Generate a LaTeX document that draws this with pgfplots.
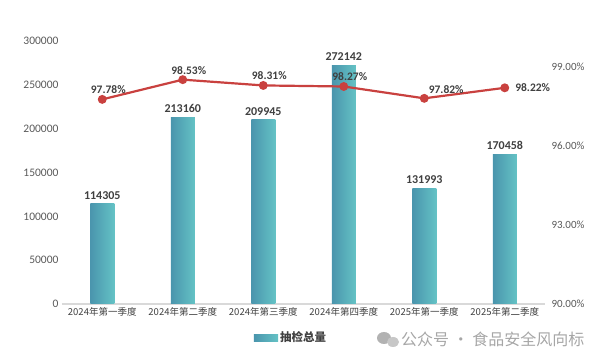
\documentclass[border=0pt]{standalone}
\usepackage{fontspec}
\setmainfont{Carlito}
\newfontfamily\cjk{Noto Sans CJK SC}
\usepackage{pgfplots}
\pgfplotsset{compat=1.18}
\definecolor{barL}{HTML}{4A95AD}
\definecolor{barR}{HTML}{64C2C5}
\definecolor{lineR}{HTML}{C9413F}
\definecolor{txt}{HTML}{595959}
\definecolor{lbl}{HTML}{404040}
\pgfplotsset{
  mybar/.style={ybar, bar width=24pt, bar shift=0pt, draw=none, left color=barL, right color=barR,
    nodes near coords={\pgfmathprintnumber[fixed,precision=0,1000 sep={}]{\pgfplotspointmeta}},
    every node near coord/.append style={font=\bfseries\fontsize{12}{13}\selectfont, text=lbl, anchor=south, yshift=1pt}},
  pctlbl/.style={only marks, mark=none, point meta=y,
    nodes near coords={\pgfmathprintnumber[fixed,fixed zerofill,precision=2]{\pgfplotspointmeta}\%},
    every node near coord/.append style={font=\bfseries\fontsize{11.5}{12}\selectfont, text=lbl}},
}
\begin{document}
\begin{tikzpicture}[x=1pt,y=1pt]
\useasboundingbox (0,0) rectangle (604,363);
\begin{axis}[
  scale only axis, at={(62pt,59pt)}, anchor=south west,
  width=483pt, height=263pt,
  xmin=-0.5, xmax=5.5, ymin=0, ymax=300000,
  xtick={0,1,2,3,4,5},
  xticklabels={2024年第一季度,2024年第二季度,2024年第三季度,2024年第四季度,2025年第一季度,2025年第二季度},
  xticklabel style={font=\cjk\fontsize{9.5}{10}\selectfont, text=lbl},
  ytick={0,50000,100000,150000,200000,250000,300000},
  scaled y ticks=false,
  yticklabel style={/pgf/number format/fixed,/pgf/number format/1000 sep={}, font=\fontsize{11.5}{12}\selectfont, text=txt},
  /pgf/number format/assume math mode=true,
  axis y line*=left, axis x line*=bottom,
  y axis line style={draw=none},
  x axis line style={draw=black!15, line width=1.2pt},
  major tick length=0pt,
  ytick style={draw=none}, xtick style={draw=none},
  legend style={at={(0.474,-0.128)}, anchor=center, draw=none, font=\cjk\bfseries\fontsize{11.5}{12}\selectfont, text=lbl, legend columns=1},
  legend image code/.code={\fill[left color=barL, right color=barR] (0cm,-0.12cm) rectangle (0.85cm,0.12cm);},
  clip=false,
]
\addplot[mybar] coordinates {(0,114305)};
\addlegendentry{抽检总量}
\addplot[mybar, forget plot] coordinates {(1,213160)};
\addplot[mybar, forget plot] coordinates {(2,209945)};
\addplot[mybar, forget plot] coordinates {(3,272142)};
\addplot[mybar, forget plot] coordinates {(4,131993)};
\addplot[mybar, forget plot] coordinates {(5,170458)};
\end{axis}
\begin{axis}[
  scale only axis, at={(62pt,59pt)}, anchor=south west,
  width=483pt, height=263pt,
  xmin=-0.5, xmax=5.5, ymin=90, ymax=100,
  axis x line=none, axis y line*=right,
  y axis line style={draw=none},
  ytick={90,93,96,99},
  yticklabel={\pgfmathprintnumber[fixed,fixed zerofill,precision=2]{\tick}\%},
  yticklabel style={font=\fontsize{11}{12}\selectfont, text=txt, xshift=3pt},
  /pgf/number format/assume math mode=true,
  major tick length=0pt, ytick style={draw=none},
  clip=false,
]
\addplot[color=lineR, line width=2.2pt, mark=*, mark size=3.3pt, mark options={fill=lineR, draw=lineR}]
  coordinates {(0,97.78) (1,98.53) (2,98.31) (3,98.27) (4,97.82) (5,98.22)};
\addplot[pctlbl, every node near coord/.append style={anchor=south, xshift=6pt, yshift=2pt}]
  coordinates {(0,97.78) (1,98.53) (2,98.31) (3,98.27)};
\addplot[pctlbl, every node near coord/.append style={anchor=south west, xshift=1pt, yshift=1pt}]
  coordinates {(4,97.82)};
\addplot[pctlbl, every node near coord/.append style={anchor=west, xshift=7pt}]
  coordinates {(5,98.22)};
\end{axis}
% watermark
\fill[black!30] (384,25) ellipse (7pt and 6pt);
\fill[black!22] (393,21) ellipse (6pt and 5pt);
\node[anchor=west, text=black!35, font=\cjk\fontsize{16}{18}\selectfont, inner sep=0pt] at (401,24) {公众号 · 食品安全风向标};
\end{tikzpicture}
\end{document}
